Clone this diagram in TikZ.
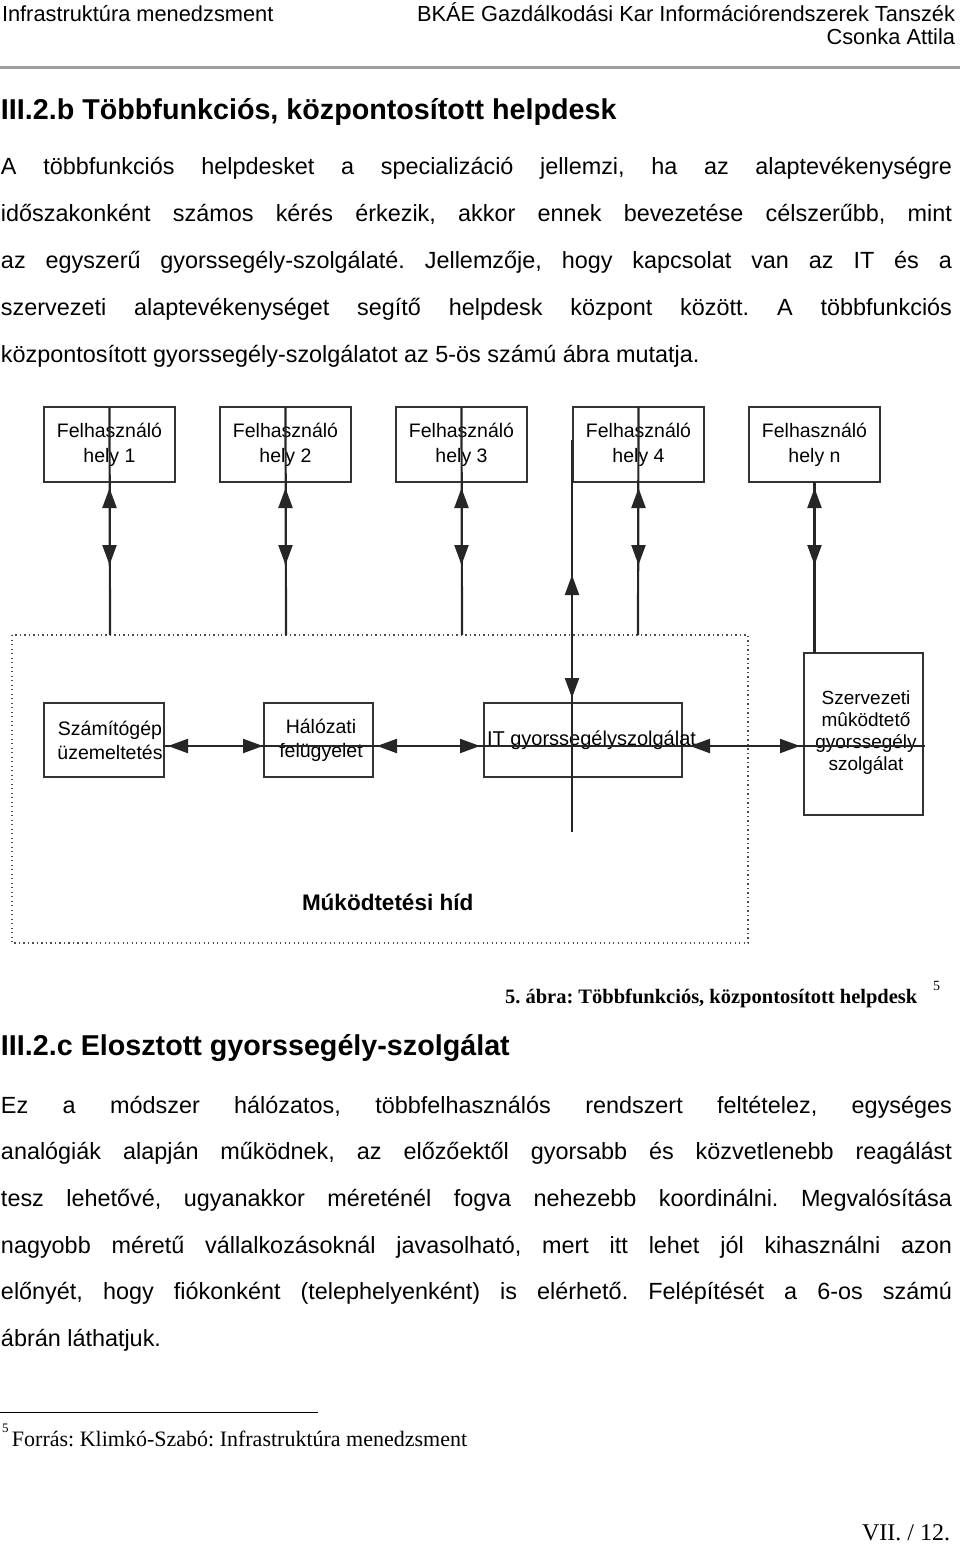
\documentclass[tikz,border=0pt]{standalone}
\usepackage{fontspec}
\setmainfont{Liberation Sans}
\newfontfamily\tnr{Liberation Serif}
\usetikzlibrary{arrows.meta}
\frenchspacing
\tikzset{
  every node/.style={inner sep=0pt, outer sep=0pt},
  hdr/.style={font=\fontsize{21.8}{26}\selectfont},
  body/.style={anchor=base west, font=\fontsize{23.4}{28}\selectfont},
  head/.style={anchor=base west, font=\bfseries\fontsize{28.7}{34}\selectfont},
  ubox/.style={draw=black!80, line width=1.5pt, minimum width=131pt, minimum height=75pt, anchor=north west,
    align=center, font=\fontsize{19.5}{25}\selectfont},
  lbox/.style={draw=black!80, line width=1.5pt, anchor=north west},
  dlabel/.style={align=center, font=\fontsize{19.5}{24}\selectfont},
  conn/.style={draw=black!85, line width=2.2pt},
  tip/.style={draw=black!85, line width=2.2pt, -{Triangle[length=20pt,width=14pt]}},
  dotline/.style={draw=black!70, line width=1.3pt, dash pattern=on 1.3pt off 3.2pt},
}
\begin{document}
\begin{tikzpicture}[x=1pt,y=-1pt]
\useasboundingbox (0,0) rectangle (960,1546);
\fill[white] (0,0) rectangle (960,1546);

% page header
\node[hdr, anchor=base west] (h1) at (2,22) {Infrastruktúra menedzsment};
\node[hdr, anchor=base east] (h2) at (955,22) {BKÁE Gazdálkodási Kar Információrendszerek Tanszék};
\node[hdr, anchor=base east] (h3) at (955,45) {Csonka Attila};
\draw[line width=3pt, black!38] (0,68) -- (960,68);

% heading and paragraph 1
\node[head] (t1) at (1,120) {III.2.b Többfunkciós, központosított helpdesk};
\node[body] (p11) at (1,175) {\makebox[951pt][s]{A többfunkciós helpdesket a specializáció jellemzi, ha az alaptevékenységre}};
\node[body] (p12) at (1,222) {\makebox[951pt][s]{időszakonként számos kérés érkezik, akkor ennek bevezetése célszerűbb, mint}};
\node[body] (p13) at (1,268.5) {\makebox[951pt][s]{az egyszerű gyorssegély-szolgálaté. Jellemzője, hogy kapcsolat van az IT és a}};
\node[body] (p14) at (1,315) {\makebox[951pt][s]{szervezeti alaptevékenységet segítő helpdesk központ között. A többfunkciós}};
\node[body] (p15) at (1,362) {központosított gyorssegély-szolgálatot az 5-ös számú ábra mutatja.};

% ---------------- diagram ----------------
\node[ubox] (u1) at (44,407)  {Felhasználó\\hely 1};
\node[ubox] (u2) at (220,407) {Felhasználó\\hely 2};
\node[ubox] (u3) at (396,407) {Felhasználó\\hely 3};
\node[ubox] (u4) at (573,407) {Felhasználó\\hely 4};
\node[ubox] (u5) at (749,407) {Felhasználó\\hely n};

\draw[dotline] (12,635) rectangle (748,943);

\node[lbox, minimum width=120pt, minimum height=74pt] (sz) at (44,703) {};
\node[lbox, minimum width=109pt, minimum height=74pt] (hf) at (264,703) {};
\node[lbox, minimum width=198pt, minimum height=74pt] (it) at (484,703) {};
\node[lbox, minimum width=119pt, minimum height=162pt] (so) at (804,653) {};

\node[dlabel] (szt) at (110,740) {Számítógép\\üzemeltetés};
\node[dlabel] (hft) at (321,740) {Hálózati\\felügyelet};
\node[dlabel, anchor=base west, font=\fontsize{20}{24}\selectfont] (itt) at (487,745) {IT gyorssegélyszolgálat};
\node[dlabel, font=\fontsize{19}{22}\selectfont] (sot) at (866,733) {Szervezeti\\mûködtető\\gyorssegély\\szolgálat};
\node[anchor=base west, font=\bfseries\fontsize{22.5}{26}\selectfont] (mh) at (302,910) {Múködtetési híd};

% vertical connectors from user sites down to the bridge
\foreach \u/\x in {u1/110,u2/286,u3/462,u4/638}{
  \coordinate (\u d) at (\x,635);
  \draw[conn] (\u.north) -- (\u d);
  \draw[tip] ([yshift=-26pt]\u.south) -- ([yshift=-6pt]\u.south);
  \draw[tip] ([yshift=-63pt]\u.south) -- ([yshift=-83pt]\u.south);
}
% site n to organisational help desk
\draw[conn] (u5.south) -- (u5.south |- so.north);
\draw[tip] ([yshift=-26pt]u5.south) -- ([yshift=-6pt]u5.south);
\draw[tip] ([yshift=-63pt]u5.south) -- ([yshift=-83pt]u5.south);

% IT line
\coordinate (ita) at (572,440);
\coordinate (itb) at (572,832);
\draw[conn] (ita) -- (itb);
\draw[tip] ([yshift=-157pt]ita) -- ([yshift=-135pt]ita);
\draw[tip] ([yshift=-235pt]ita) -- ([yshift=-258pt]ita);

% horizontal line
\coordinate (ha) at (164,746);
\coordinate (hb) at (925,746);
\draw[conn] (ha) -- (hb);
\draw[tip] ([xshift=29pt]ha) -- ([xshift=4pt]ha);
\draw[tip] ([xshift=74pt]ha) -- ([xshift=99pt]ha);
\draw[tip] ([xshift=238pt]ha) -- ([xshift=213pt]ha);
\draw[tip] ([xshift=293pt]ha) -- ([xshift=316pt]ha);
\draw[tip] ([xshift=546pt]ha) -- ([xshift=526pt]ha);
\draw[tip] ([xshift=613pt]ha) -- ([xshift=636pt]ha);

% caption
\node[anchor=base west, font=\tnr\bfseries\fontsize{20.5}{24}\selectfont] (cap) at (505,1003) {5. ábra: Többfunkciós, központosított helpdesk};
\node[anchor=base west, font=\tnr\fontsize{14}{16}\selectfont] (capn) at (933,990) {5};

% heading and paragraph 2
\node[head] (t2) at (1,1055) {III.2.c Elosztott gyorssegély-szolgálat};
\node[body] (p21) at (1,1113) {\makebox[951pt][s]{Ez a módszer hálózatos, többfelhasználós rendszert feltételez, egységes}};
\node[body] (p22) at (1,1159.5) {\makebox[951pt][s]{analógiák alapján működnek, az előzőektől gyorsabb és közvetlenebb reagálást}};
\node[body] (p23) at (1,1206) {\makebox[951pt][s]{tesz lehetővé, ugyanakkor méreténél fogva nehezebb koordinálni. Megvalósítása}};
\node[body] (p24) at (1,1253) {\makebox[951pt][s]{nagyobb méretű vállalkozásoknál javasolható, mert itt lehet jól kihasználni azon}};
\node[body] (p25) at (1,1299) {\makebox[951pt][s]{előnyét, hogy fiókonként (telephelyenként) is elérhető. Felépítését a 6-os számú}};
\node[body] (p26) at (1,1346) {ábrán láthatjuk.};

% footnote
\draw[line width=1pt, black] (0,1412) -- (318,1412);
\node[anchor=base west, font=\tnr\fontsize{13}{15}\selectfont] (fn) at (2,1432) {5};
\node[anchor=base west, font=\tnr\fontsize{22}{25}\selectfont] (fnt) at (12,1446) {Forrás: Klimkó-Szabó: Infrastruktúra menedzsment};
\node[anchor=base east, font=\tnr\fontsize{24}{28}\selectfont] (pg) at (950,1540) {VII. / 12.};
\end{tikzpicture}
\end{document}
